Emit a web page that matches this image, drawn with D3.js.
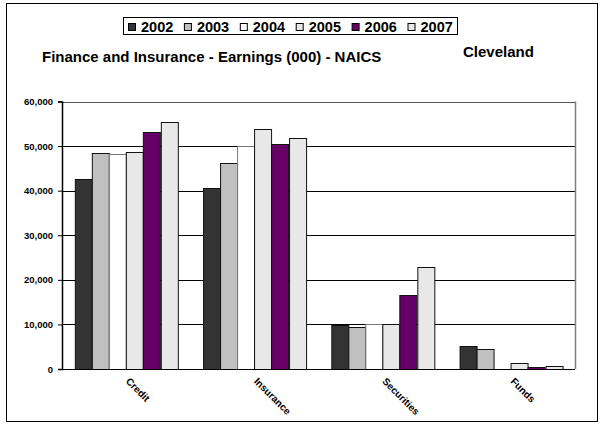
<!DOCTYPE html>
<html><head><meta charset="utf-8">
<script src="https://cdn.jsdelivr.net/npm/d3@7"></script>
<style>body{margin:0;background:#fff}svg{display:block}text{font-family:Arial,"Liberation Sans",sans-serif;font-weight:bold;fill:#000}</style>
</head><body><div id="c"></div>
<script>
const categories = ["Credit", "Insurance", "Securities", "Funds"];
const years = ["2002", "2003", "2004", "2005", "2006", "2007"];
const v2002 = [42700, 40500, 9800, 5100];
const v2003 = [48400, 46300, 9450, 4430];
const v2004 = [48250, 50000, 10000, 0];
const v2005 = [48700, 53800, 10050, 1350];
const v2006 = [53100, 50400, 16550, 540];
const v2007 = [55500, 51850, 22900, 760];
const yTicks = [0, 10000, 20000, 30000, 40000, 50000, 60000];
const seriesValues = [v2002, v2003, v2004, v2005, v2006, v2007];
const colors = ["#333333", "#c0c0c0", "#ffffff", "#e8e8e8", "#660066", "#e8e8e8"];

const W = 604, H = 427;
const svg = d3.select("#c").append("svg").attr("width", W).attr("height", H);
svg.append("rect").attr("x", 6.5).attr("y", 3.5).attr("width", 591).attr("height", 418)
  .attr("fill", "#fff").attr("stroke", "#000").attr("stroke-width", 1);

const pL = 62, pR = 575, pT = 101.5, pB = 369;
const x0 = d3.scaleBand().domain(categories).range([pL, pR]).paddingInner(0.2).paddingOuter(0.1);
const x1 = d3.scaleBand().domain(years).range([0, x0.bandwidth()]);
const y = d3.scaleLinear().domain([0, 60000]).range([pB, pT]);
const color = d3.scaleOrdinal().domain(years).range(colors);

// gridlines
svg.append("g").selectAll("line").data(yTicks.filter(d => d > 0)).join("line")
  .attr("x1", pL).attr("x2", pR)
  .attr("y1", d => Math.round(y(d)) + 0.5).attr("y2", d => Math.round(y(d)) + 0.5)
  .attr("stroke", d => d === 60000 ? "#555" : "#000").attr("stroke-width", 1);
// right plot border
svg.append("line").attr("x1", pR + 0.5).attr("x2", pR + 0.5).attr("y1", y(60000)).attr("y2", y(0))
  .attr("stroke", "#808080").attr("stroke-width", 1.5);

// bars
const data = categories.map((c, i) => ({cat: c, vals: years.map((yr, j) => ({yr, v: seriesValues[j][i]}))}));
const g = svg.append("g").selectAll("g").data(data).join("g")
  .attr("transform", d => `translate(${x0(d.cat)},0)`);
g.selectAll("rect").data(d => d.vals.filter(e => e.v > 0)).join("rect")
  .attr("x", d => Math.round(x1(d.yr)) + 0.5)
  .attr("y", d => Math.round(y(d.v)) + 0.5)
  .attr("width", d => Math.round(x1.bandwidth()))
  .attr("height", d => Math.max(0, Math.round(y(0)) - Math.round(y(d.v))))
  .attr("fill", d => color(d.yr))
  .attr("stroke", d => d.yr === "2004" ? "#777" : "#111").attr("stroke-width", 1);

// y axis
const ya = svg.append("g").attr("transform", `translate(${pL},0)`)
  .call(d3.axisLeft(y).tickValues(yTicks).tickSize(4).tickPadding(5).tickFormat(d3.format(",")));
ya.select(".domain").attr("stroke", "#000").attr("stroke-width", 1.5);
ya.selectAll(".tick line").attr("stroke", "#000");
ya.selectAll("text").style("font-size", "9.5px").style("font-weight", "bold").attr("fill", "#000");

// x axis baseline
svg.append("line").attr("x1", pL).attr("x2", pR).attr("y1", Math.round(y(0)) + 0.5).attr("y2", Math.round(y(0)) + 0.5)
  .attr("stroke", "#000").attr("stroke-width", 1.2);

// x labels
svg.append("g").selectAll("text").data(categories).join("text")
  .attr("transform", d => `translate(${x0(d) + x0.bandwidth() / 2 - 1},${pB + 13}) rotate(45)`)
  .attr("text-anchor", "start").style("font-size", "10px").text(d => d);

// title
svg.append("text").attr("x", 42).attr("y", 62).style("font-size", "15px").text("Finance and Insurance - Earnings (000) - NAICS");
svg.append("text").attr("x", 463).attr("y", 57).style("font-size", "15px").text("Cleveland");

// legend
const lg = svg.append("g");
lg.append("rect").attr("x", 123.5).attr("y", 17.5).attr("width", 334).attr("height", 17)
  .attr("fill", "#fff").attr("stroke", "#000").attr("stroke-width", 1);
const li = lg.selectAll("g").data(years).join("g")
  .attr("transform", (d, i) => `translate(${128 + i * 55.9},0)`);
li.append("rect").attr("x", 0.5).attr("y", 23.5).attr("width", 7).attr("height", 7)
  .attr("fill", d => color(d)).attr("stroke", "#000").attr("stroke-width", 1);
li.append("text").attr("x", 13).attr("y", 31.5).style("font-size", "14.5px").text(d => d);
</script></body></html>
